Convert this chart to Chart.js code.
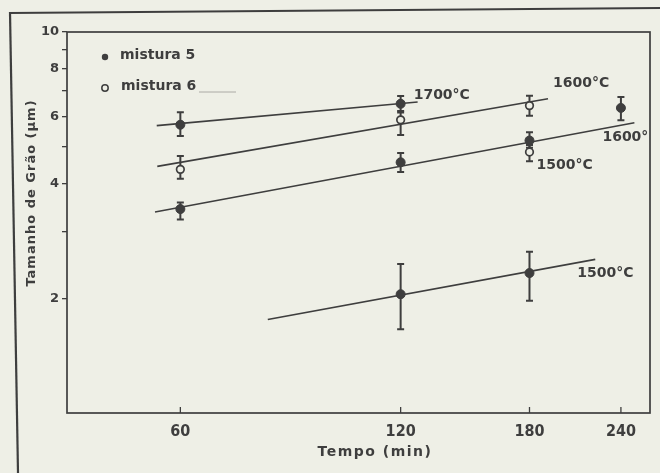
<!DOCTYPE html>
<html>
<head>
<meta charset="utf-8">
<script src="https://cdn.jsdelivr.net/npm/chart.js@4.4.1/dist/chart.umd.min.js"></script>
<style>
  html, body { margin: 0; padding: 0; background: #eeefe6; }
  canvas { display: block; }
</style>
</head>
<body>
<canvas id="chart" width="660" height="473"></canvas>
<script>
// Grain size (µm) against time (min), log–log axes
const timeTicks = [60, 120, 180, 240];
const sizeTicks = [2, 3, 4, 5, 6, 7, 8, 9, 10];
const sizeTickLabels = [2, 4, 6, 8, 10];

// mistura 5 (filled markers) with error-bar limits
const mix5Time = [60, 120, 60, 120, 180, 240, 120, 180];
const mix5Size = [5.71, 6.48, 3.43, 4.55, 5.19, 6.32, 2.05, 2.33];
const mix5Low  = [5.33, 6.15, 3.22, 4.29, 4.97, 5.87, 1.66, 1.97];
const mix5High = [6.16, 6.79, 3.57, 4.81, 5.46, 6.75, 2.46, 2.65];

// mistura 6 (open markers) with error-bar limits
const mix6Time = [60, 120, 180, 180];
const mix6Size = [4.36, 5.88, 6.41, 4.84];
const mix6Low  = [4.12, 5.37, 6.03, 4.58];
const mix6High = [4.73, 6.20, 6.80, 5.05];

// fitted lines (two ends each)
const fit1700Time  = [55.7, 126.6];
const fit1700Size  = [5.68, 6.55];
const fit1600bTime = [55.8, 190.8];
const fit1600bSize = [4.44, 6.68];
const fit1600aTime = [55.4, 250.4];
const fit1600aSize = [3.37, 5.78];
const fit1500Time  = [79.0, 221.4];
const fit1500Size  = [1.76, 2.53];

const paper = '#eeefe6';
const ink = '#3e3e3e';
const FONT = "'DejaVu Sans', sans-serif";
const NARROW = "'Liberation Sans Narrow', 'DejaVu Sans Condensed', 'DejaVu Sans', sans-serif";

const toPoints = (xs, ys) => xs.map((x, i) => ({ x, y: ys[i] }));

// temperature notes, anchored to the end of each fit
const tempLabels = [
  { text: '1700°C', t: fit1700Time[1],  v: fit1700Size[1],  dx: -4,  dy: -7 },
  { text: '1600°C', t: fit1600bTime[1], v: fit1600bSize[1], dx: 5,   dy: -15 },
  { text: '1600°',  t: fit1600aTime[1], v: fit1600aSize[1], dx: -32, dy: 15 },
  { text: '1500°C', t: mix6Time[3],     v: mix6Size[3],     dx: 7,   dy: 13 },
  { text: '1500°C', t: fit1500Time[1],  v: fit1500Size[1],  dx: -18, dy: 14 }
];

const paperPlugin = {
  id: 'paper',
  beforeDraw(chart) {
    const ctx = chart.ctx;
    ctx.save();
    ctx.fillStyle = paper;
    ctx.fillRect(0, 0, chart.width, chart.height);
    // outer border of the figure
    ctx.strokeStyle = ink;
    ctx.lineWidth = 2.2;
    ctx.beginPath(); ctx.moveTo(9, 13); ctx.lineTo(660, 8); ctx.stroke();
    ctx.beginPath(); ctx.moveTo(10, 12); ctx.lineTo(18, 473); ctx.stroke();
    ctx.restore();
  }
};

function drawErrorBars(ctx, x, y, times, lows, highs) {
  times.forEach((t, i) => {
    const px = x.getPixelForValue(t);
    const top = y.getPixelForValue(highs[i]);
    const bot = y.getPixelForValue(lows[i]);
    ctx.beginPath();
    ctx.moveTo(px, top); ctx.lineTo(px, bot);
    ctx.moveTo(px - 3.5, top); ctx.lineTo(px + 3.5, top);
    ctx.moveTo(px - 3.5, bot); ctx.lineTo(px + 3.5, bot);
    ctx.stroke();
  });
}

const framePlugin = {
  id: 'frame',
  beforeDatasetsDraw(chart) {
    const { ctx, chartArea: a, scales: { x, y } } = chart;
    ctx.save();
    ctx.strokeStyle = ink;
    ctx.lineWidth = 1.7;
    ctx.strokeRect(a.left, a.top, a.right - a.left, a.bottom - a.top);
    // time ticks point into the plot
    ctx.lineWidth = 1.3;
    timeTicks.forEach(t => {
      const px = x.getPixelForValue(t);
      ctx.beginPath(); ctx.moveTo(px, a.bottom); ctx.lineTo(px, a.bottom - 6); ctx.stroke();
    });
    ctx.lineWidth = 2;
    drawErrorBars(ctx, x, y, mix5Time, mix5Low, mix5High);
    drawErrorBars(ctx, x, y, mix6Time, mix6Low, mix6High);
    ctx.restore();
  }
};

const notesPlugin = {
  id: 'notes',
  afterDatasetsDraw(chart) {
    const { ctx, chartArea: a, scales: { x, y } } = chart;
    ctx.save();
    ctx.fillStyle = ink;
    ctx.strokeStyle = ink;
    ctx.textBaseline = 'middle';
    ctx.textAlign = 'left';

    // legend
    ctx.beginPath(); ctx.arc(105, 57, 3.2, 0, Math.PI * 2); ctx.fill();
    ctx.lineWidth = 1.5;
    ctx.beginPath(); ctx.arc(105, 88, 3.2, 0, Math.PI * 2); ctx.stroke();
    ctx.font = `bold 14px ${FONT}`;
    ctx.fillText('mistura 5', 120, 55);
    ctx.fillText('mistura 6', 121, 86);
    ctx.strokeStyle = '#9a9a94';
    ctx.lineWidth = 0.8;
    ctx.beginPath(); ctx.moveTo(199, 92); ctx.lineTo(236, 92); ctx.stroke();

    // temperature notes
    ctx.font = `bold 14px ${FONT}`;
    tempLabels.forEach(l => {
      ctx.fillText(l.text, x.getPixelForValue(l.t) + l.dx, y.getPixelForValue(l.v) + l.dy);
    });

    // axis titles
    ctx.letterSpacing = '1.5px';
    ctx.textAlign = 'center';
    ctx.font = `bold 14px ${FONT}`;
    ctx.fillText('Tempo (min)', 375, 452);
    ctx.letterSpacing = '1px';
    ctx.font = `bold 13px ${FONT}`;
    ctx.translate(32, 193);
    ctx.rotate(-Math.PI / 2);
    ctx.fillText('Tamanho de Grão (µm)', 0, 0);
    ctx.restore();
  }
};

new Chart(document.getElementById('chart'), {
  type: 'scatter',
  data: {
    datasets: [
      { label: 'mistura 5', data: toPoints(mix5Time, mix5Size), order: 0,
        pointRadius: 4.5, pointBackgroundColor: ink, pointBorderColor: ink, pointBorderWidth: 1 },
      { label: 'mistura 6', data: toPoints(mix6Time, mix6Size), order: 0,
        pointRadius: 3.8, pointBackgroundColor: paper, pointBorderColor: ink, pointBorderWidth: 1.7 },
      { label: '1700 °C', data: toPoints(fit1700Time, fit1700Size), showLine: true, order: 1,
        borderColor: ink, borderWidth: 1.6, pointRadius: 0 },
      { label: '1600 °C (mistura 6)', data: toPoints(fit1600bTime, fit1600bSize), showLine: true, order: 1,
        borderColor: ink, borderWidth: 1.6, pointRadius: 0 },
      { label: '1600 °C (mistura 5)', data: toPoints(fit1600aTime, fit1600aSize), showLine: true, order: 1,
        borderColor: ink, borderWidth: 1.6, pointRadius: 0 },
      { label: '1500 °C', data: toPoints(fit1500Time, fit1500Size), showLine: true, order: 1,
        borderColor: ink, borderWidth: 1.6, pointRadius: 0 }
    ]
  },
  options: {
    responsive: false,
    animation: false,
    devicePixelRatio: 1,
    layout: { padding: { left: 0, top: 32, right: 10, bottom: 0 } },
    plugins: { legend: { display: false }, tooltip: { enabled: false } },
    scales: {
      x: {
        type: 'logarithmic',
        min: 42,
        max: 263,
        afterFit(s) { s.height = 60; },
        afterBuildTicks(s) { s.ticks = timeTicks.map(v => ({ value: v })); },
        grid: { display: true, drawOnChartArea: false, drawTicks: false },
        border: { display: false },
        ticks: {
          autoSkip: false, maxRotation: 0, padding: 9, color: ink,
          font: { family: NARROW, size: 16, weight: 'bold' },
          callback: v => String(v)
        }
      },
      y: {
        type: 'logarithmic',
        min: 1,
        max: 10,
        afterFit(s) { s.width = 67; },
        afterBuildTicks(s) { s.ticks = sizeTicks.map(v => ({ value: v })); },
        grid: { display: true, drawOnChartArea: false, drawTicks: true, tickLength: 5, color: ink, lineWidth: 1.3 },
        border: { display: false },
        ticks: {
          autoSkip: false, padding: 3, color: ink,
          font: { family: FONT, size: 13, weight: 'bold' },
          callback: v => sizeTickLabels.includes(v) ? String(v) : ''
        }
      }
    }
  },
  plugins: [paperPlugin, framePlugin, notesPlugin]
});
</script>
</body>
</html>
